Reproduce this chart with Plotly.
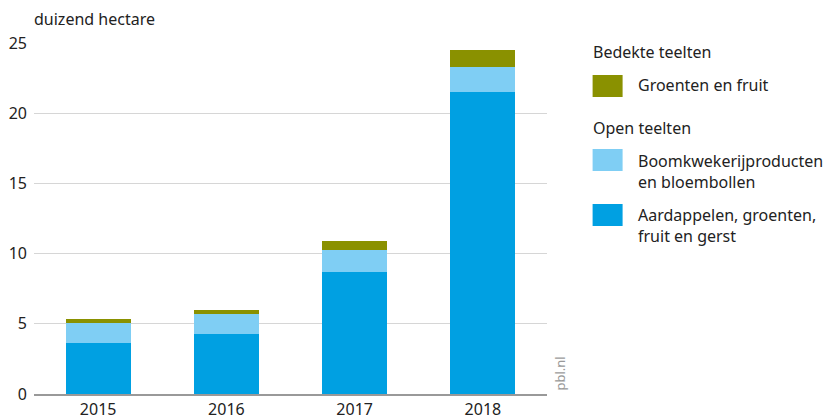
import plotly.graph_objects as go

years = ["2015", "2016", "2017", "2018"]
open_aard = [3.65, 4.28, 8.7, 21.5]
open_boom = [1.42, 1.42, 1.57, 1.8]
bedekt = [0.28, 0.28, 0.63, 1.2]

c_dark = "#00a0e2"
c_light = "#7fcef4"
c_olive = "#8a9100"
font = "Noto Sans"

OFF = 8  # page body margin
W, H = 831 - OFF, 419 - OFF
L, T = 34.4 - OFF, 43 - OFF
R = W - (547.4 - OFF)
B = H - (394 - OFF)

fig = go.Figure()
for name, vals, col in [
    ("Aardappelen, groenten, fruit en gerst", open_aard, c_dark),
    ("Boomkwekerijproducten en bloembollen", open_boom, c_light),
    ("Groenten en fruit", bedekt, c_olive),
]:
    fig.add_trace(go.Bar(x=years, y=vals, name=name, marker_color=col,
                         marker_line_width=0, showlegend=False))

fig.update_layout(
    barmode="stack",
    bargap=0.493,
    width=W, height=H,
    margin=dict(l=L, r=R, t=T, b=B, autoexpand=False),
    plot_bgcolor="white", paper_bgcolor="white",
    font=dict(family=font, size=16, color="#222"),
    xaxis=dict(showline=True, linecolor="#999", linewidth=1.5, ticks="",
               tickfont=dict(size=16), automargin=False),
    yaxis=dict(range=[0, 25], dtick=5, showgrid=True, gridcolor="#d6d6d6",
               gridwidth=1, zeroline=False, ticks="", ticklabelstandoff=6,
               tickfont=dict(size=16), automargin=False),
)

def px2paper_x(px):
    return (px - OFF - L) / (W - L - R)

def px2paper_y(py):
    return (H - B - (py - OFF)) / (H - B - T)

def text(px, py, t, color="#222", size=16, angle=0, xanchor="left", yanchor="middle"):
    fig.add_annotation(x=px2paper_x(px), y=px2paper_y(py), xref="paper", yref="paper",
                       xanchor=xanchor, yanchor=yanchor, text=t, showarrow=False,
                       align="left", font=dict(size=size, color=color),
                       textangle=angle, borderpad=0)

def swatch(x0, y0, x1, y1, col):
    fig.add_shape(type="rect", xref="paper", yref="paper",
                  x0=px2paper_x(x0), x1=px2paper_x(x1),
                  y0=px2paper_y(y0), y1=px2paper_y(y1),
                  fillcolor=col, line_width=0)

text(33, 19, "duizend hectare")
text(592, 52, "Bedekte teelten")
swatch(593, 75, 623, 97, c_olive)
text(637, 85, "Groenten en fruit")
text(592, 128, "Open teelten")
swatch(593, 149, 623, 171, c_light)
text(637, 171, "Boomkwekerijproducten<br>en bloembollen")
swatch(593, 204, 623, 226, c_dark)
text(637, 225, "Aardappelen, groenten,<br>fruit en gerst")
text(560, 392, "pbl.nl", color="#999", size=13, angle=-90, xanchor="center", yanchor="bottom")

fig.write_html("out.html")
